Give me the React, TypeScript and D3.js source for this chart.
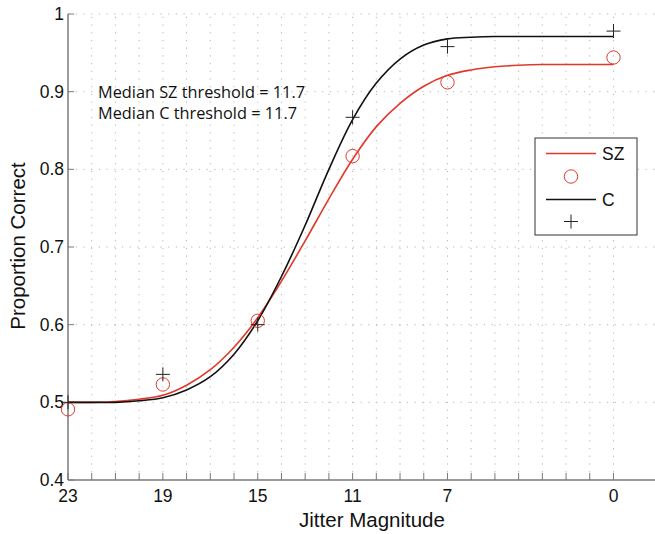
import React from "react";
import * as d3 from "d3";

// jitter levels shown on the axis (largest jitter on the left)
const levels = [23, 19, 15, 11, 7, 0];
// observed proportion correct
const szObserved = [0.491, 0.523, 0.605, 0.817, 0.912, 0.944];
const cObserved = [0.5, 0.536, 0.6, 0.867, 0.958, 0.978];

// fitted psychometric curves at every jitter step
const fitX = [23, 22, 21, 20, 19, 18, 17, 16, 15, 14, 13, 12, 11, 10, 9, 8, 7, 6, 5, 4, 3, 2, 1, 0];
const szFit = [0.5, 0.5, 0.501, 0.504, 0.509, 0.522, 0.542, 0.571, 0.609, 0.656, 0.708, 0.762, 0.813, 0.855, 0.885, 0.907, 0.921, 0.928, 0.932, 0.934, 0.935, 0.935, 0.935, 0.935];
const cFit = [0.5, 0.5, 0.5, 0.502, 0.506, 0.516, 0.533, 0.562, 0.605, 0.662, 0.728, 0.8, 0.864, 0.911, 0.942, 0.96, 0.968, 0.97, 0.971, 0.971, 0.971, 0.971, 0.971, 0.971];

const yTicks = [0.4, 0.5, 0.6, 0.7, 0.8, 0.9, 1];
const annotations = ["Median SZ threshold = 11.7", "Median C threshold = 11.7"];
const annotationWidths = [207, 199];

const W = 655;
const H = 534;
const RED = "#e0392b";
const AXIS = "#7a7a7a";
const FONT = "'Liberation Sans', Arial, Helvetica, sans-serif";

export default function App() {
  const x = d3.scaleLinear().domain([23, -1.75]).range([68, 655]);
  const y = d3.scaleLinear().domain([0.4, 1]).range([480, 14]);

  const line = d3
    .line<[number, number]>()
    .x((d) => x(d[0]))
    .y((d) => y(d[1]))
    .curve(d3.curveCatmullRom.alpha(0.5));

  const szPath = line(fitX.map((v, i) => [v, szFit[i]]));
  const cPath = line(fitX.map((v, i) => [v, cFit[i]]));

  const minor = d3.range(0, 24); // one tick per jitter step
  const x0 = x(23);
  const xEnd = W;
  const yBottom = y(0.4);

  const plus = (cx: number, cy: number, r: number, key: any) => (
    <g key={key} stroke="#222" strokeWidth={1}>
      <line x1={cx - r} x2={cx + r} y1={cy} y2={cy} />
      <line x1={cx} x2={cx} y1={cy - r} y2={cy + r} />
    </g>
  );

  return (
    <svg width={W} height={H} style={{ position: "absolute", left: 0, top: 0 }} fontFamily={FONT}>
      <rect width={W} height={H} fill="#fff" />

      {/* dotted grid */}
      <g stroke="#b5b5b5" strokeWidth={1} strokeDasharray="1.2 6.5">
        {minor
          .filter((v) => v !== 23)
          .map((v) => (
            <line key={"gx" + v} x1={x(v)} x2={x(v)} y1={yBottom} y2={y(1)} />
          ))}
        {yTicks
          .filter((t) => t > 0.4)
          .map((t) => (
            <line key={"gy" + t} x1={x0} x2={xEnd} y1={y(t)} y2={y(t)} />
          ))}
      </g>

      {/* axes */}
      <g stroke={AXIS} strokeWidth={1.5}>
        <line x1={x0} x2={x0} y1={yBottom} y2={y(1)} />
        <line x1={x0} x2={xEnd} y1={yBottom} y2={yBottom} />
        {minor.map((v) => (
          <line key={"tx" + v} x1={x(v)} x2={x(v)} y1={yBottom} y2={yBottom - 7} strokeWidth={1} />
        ))}
        {yTicks.map((t) => (
          <line key={"ty" + t} x1={x0} x2={x0 + 6} y1={y(t)} y2={y(t)} strokeWidth={1} />
        ))}
      </g>

      {/* tick labels */}
      <g fontSize={17.5} fill="#111">
        {yTicks.map((t) => (
          <text key={"ly" + t} x={x0 - 4} y={y(t) + 6} textAnchor="end">
            {d3.format("")(t)}
          </text>
        ))}
        {levels.map((v) => (
          <text key={"lx" + v} x={x(v)} y={502} textAnchor="middle">
            {v}
          </text>
        ))}
      </g>

      {/* axis titles */}
      <text x={372} y={527} fontSize={20.5} textAnchor="middle" fill="#111">
        Jitter Magnitude
      </text>
      <text transform={`translate(25,246) rotate(-90)`} fontSize={20.5} textAnchor="middle" fill="#111">
        Proportion Correct
      </text>

      {/* fitted curves */}
      <path d={szPath ?? ""} fill="none" stroke={RED} strokeWidth={1.6} />
      <path d={cPath ?? ""} fill="none" stroke="#111" strokeWidth={1.6} />

      {/* observed points */}
      {levels.map((v, i) => (
        <circle key={"sz" + v} cx={x(v)} cy={y(szObserved[i])} r={6.7} fill="none" stroke={RED} strokeWidth={1} />
      ))}
      {levels.map((v, i) => plus(x(v), y(cObserved[i]), 7, "c" + v))}

      {/* threshold annotation */}
      <g fontFamily="'Open Sans', 'Noto Sans', sans-serif" fontSize={16.5} fill="#111">
        {annotations.map((s, i) => (
          <text
            key={s}
            x={98}
            y={97.5 + i * 21}
            textLength={annotationWidths[i]}
            lengthAdjust="spacingAndGlyphs"
          >
            {s}
          </text>
        ))}
      </g>

      {/* legend */}
      <g>
        <rect x={535} y={138} width={102} height={97} fill="#fff" stroke="#333" strokeWidth={1} />
        <line x1={546} x2={596} y1={153.5} y2={153.5} stroke={RED} strokeWidth={1.6} />
        <text x={602} y={160} fontSize={17.5} fill="#111">SZ</text>
        <circle cx={571} cy={176.5} r={6.7} fill="none" stroke={RED} strokeWidth={1} />
        <line x1={546} x2={596} y1={199.5} y2={199.5} stroke="#111" strokeWidth={1.6} />
        <text x={602} y={206} fontSize={17.5} fill="#111">C</text>
        {plus(571, 221.5, 7, "legend-plus")}
      </g>
    </svg>
  );
}
